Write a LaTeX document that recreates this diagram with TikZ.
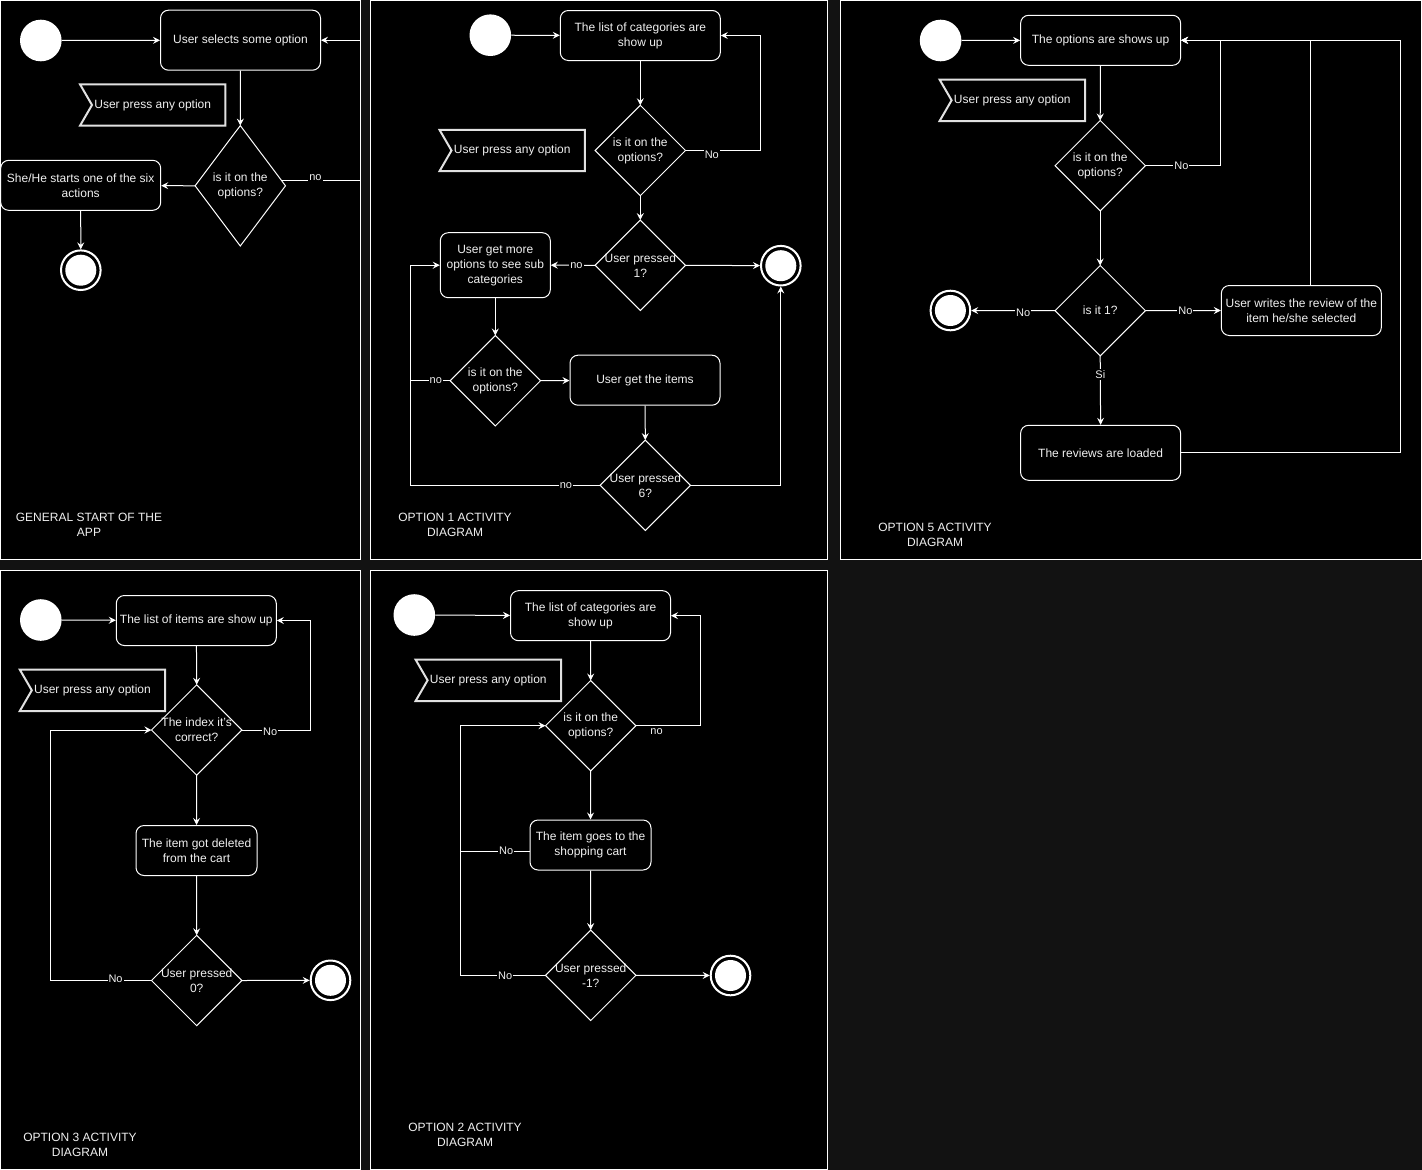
\documentclass[tikz,border=0pt]{standalone}
\usepackage{fontspec}
\setmainfont{Liberation Sans}
\usetikzlibrary{arrows.meta}
\definecolor{bgc}{RGB}{18,18,18}
\definecolor{txt}{RGB}{240,240,240}
\definecolor{flagc}{RGB}{225,225,225}
\tikzset{
  panel/.style={draw=white, fill=black, line width=1pt},
  act/.style={draw=white, fill=black, rounded corners=8pt, text=txt, align=center, inner sep=2pt, line width=1pt},
  dec/.style={rectangle, inner sep=0pt, text=txt, align=center, minimum width=90pt, minimum height=90pt},
  shapeline/.style={draw=white, line width=1pt, line join=miter},
  flagbox/.style={rectangle, inner sep=0pt, minimum width=145pt, minimum height=41pt, text=txt},
  flagline/.style={draw=flagc, line width=2pt},
  startc/.style={circle, fill=white, minimum size=41.6pt, inner sep=0pt},
  endc/.style={circle, draw=white, line width=2pt, fill=black, minimum size=39.6pt, inner sep=0pt,
    path picture={\fill[white] (path picture bounding box.center) circle (15.5pt);}},
  arr/.style={draw=white, line width=1pt, -{Stealth[length=7pt,width=7pt,inset=2.5pt]}},
  ln/.style={draw=white, line width=1pt},
  lbl/.style={fill=black, text=txt, inner sep=1pt, font=\fontsize{11}{13}\selectfont},
  ttl/.style={text=txt, align=center}
}
\newcommand\decnode[5][]{%
  \node[dec,#1] (#2) at (#3,#4) {#5};
  \draw[shapeline] (#2.north) -- (#2.east) -- (#2.south) -- (#2.west) -- cycle;}
\newcommand\flagnode[3]{%
  \node[flagbox] (#1) at (#2,#3) {User press any option};
  \draw[flagline] (#1.north west) -- (#1.north east) -- (#1.south east) -- (#1.south west) -- ([xshift=12pt]#1.west) -- cycle;}
\begin{document}
\begin{tikzpicture}[x=1pt, y=-1pt, font=\fontsize{12}{15}\selectfont]
\useasboundingbox (0,0) rectangle (1422,1170);
\fill[bgc] (0,0) rectangle (1422,1170);
% panels
\path[panel] (0.5,0.5) rectangle (360,559.5);
\path[panel] (370.5,0.5) rectangle (827.5,559.5);
\path[panel] (840.5,0.5) rectangle (1421,559.5);
\path[panel] (0.5,570.5) rectangle (360,1169);
\path[panel] (370.5,570.5) rectangle (827.5,1169);

% ===== Panel 1: general start =====
\node[startc] (s1) at (40.8,40.5) {};
\node[act, minimum width=160, minimum height=60] (a1) at (240.5,40.2) {User selects some option};
\flagnode{f1}{152.7}{105}
\decnode[minimum height=120]{d1}{240.3}{185.8}{is it on the\\options?}
\node[act, minimum width=160, minimum height=50] (a2) at (80.7,185.3) {She/He starts one of the six\\actions};
\node[endc] (e1) at (80.8,270.2) {};
\draw[arr] (s1) -- (a1);
\draw[arr] (a1) -- (d1.north);
\draw[arr] (d1.west) -- (a2);
\draw[arr] (a2) -- (e1);
\draw[arr] ([shift={(-3.75pt,5pt)}]d1.east) -- node[lbl, pos=0.43, yshift=3.5pt] {no} (360,180.8) -- (360,40.2) -- (a1.east);
\node[ttl] (t1) at (89,525) {GENERAL START OF THE\\APP};

% ===== Panel 2: option 1 =====
\node[startc] (s2) at (490.3,35.2) {};
\node[act, minimum width=160, minimum height=50] (a3) at (640.3,35.5) {The list of categories are\\show up};
\flagnode{f2}{512.2}{150.5}
\decnode{d2}{640.3}{150.5}{is it on the\\options?}
\decnode{d3}{640.3}{265.3}{User pressed\\1?}
\node[endc] (e2) at (780.8,265.7) {};
\node[act, minimum width=110, minimum height=65] (a4) at (495.3,265.2) {User get more\\options to see sub\\categories};
\decnode{d4}{495.3}{380.7}{is it on the\\options?}
\node[act, minimum width=150, minimum height=50] (a5) at (645,380.2) {User get the items};
\decnode{d5}{645.3}{485.3}{User pressed\\6?}
\draw[arr] (s2) -- (a3);
\draw[arr] (a3) -- (d2.north);
\draw[arr] (d2.east) -- node[lbl, pos=0.35, yshift=-4.5pt] {No} (760.7,150.5) -- (760.7,35.5) -- (a3.east);
\draw[arr] (d2.south) -- (d3.north);
\draw[arr] (d3.east) -- (e2);
\draw[arr] (d3.west) -- node[lbl, pos=0.42] {no} (a4.east);
\draw[arr] (a4) -- (d4.north);
\draw[arr] (d4.east) -- (a5);
\draw[ln] (d4.west) -- node[lbl, pos=0.36] {no} (410.5,380.7);
\draw[arr] (a5) -- (d5.north);
\draw[arr] (d5.west) -- node[lbl, pos=0.18] {no} (410.5,485.3) -- (410.5,265.2) -- (a4.west);
\draw[arr] (d5.east) -- (780.8,485.3) -- (e2.south);
\node[ttl] (t2) at (455,525) {OPTION 1 ACTIVITY\\DIAGRAM};

% ===== Panel 3: option 5 =====
\node[startc] (s3) at (940.6,40.5) {};
\node[act, minimum width=160, minimum height=50] (a6) at (1100.6,40.3) {The options are shows up};
\flagnode{f3}{1012.3}{100.3}
\decnode{d6}{1100.2}{165.7}{is it on the\\options?}
\decnode{d7}{1100.2}{310.7}{is it 1?}
\node[endc] (e3) at (950.4,310.5) {};
\node[act, minimum width=160, minimum height=50] (a7) at (1301.3,310.5) {User writes the review of the\\item he/she selected};
\node[act, minimum width=160, minimum height=55] (a8) at (1100.6,452.8) {The reviews are loaded};
\draw[arr] (s3) -- (a6);
\draw[arr] (a6) -- (d6.north);
\draw[arr] (d6.east) -- node[lbl, pos=0.48] {No} (1220.5,165.7) -- (1220.5,40.3) -- (a6.east);
\draw[arr] (d6.south) -- (d7.north);
\draw[arr] (d7.west) -- node[lbl, pos=0.38, yshift=-2pt] {No} (e3);
\draw[arr] (d7.east) -- node[lbl, pos=0.53] {No} (a7.west);
\draw[arr] (d7.south) -- node[lbl, pos=0.27] {Si} (a8.north);
\draw[arr] ([xshift=9.4pt]a7.north) |- (a6.east);
\draw[arr] (a8.east) -| (1400.5,40.3) -- (a6.east);
\node[ttl] (t3) at (935,535) {OPTION 5 ACTIVITY\\DIAGRAM};

% ===== Panel 4: option 3 =====
\node[startc] (s4) at (40.8,620) {};
\node[act, minimum width=160, minimum height=50] (a9) at (196.3,620.5) {The list of items are show up};
\flagnode{f4}{92.5}{690.3}
\decnode{d8}{196.7}{730}{The index it's\\correct?}
\node[act, minimum width=121, minimum height=50] (a10) at (196.5,850.5) {The item got deleted\\from the cart};
\decnode{d9}{196.7}{980.5}{User pressed\\0?}
\node[endc] (e4) at (330.5,980.3) {};
\draw[arr] (s4) -- (a9);
\draw[arr] (a9) -- (d8.north);
\draw[arr] (d8.east) -- node[lbl, pos=0.41, yshift=-2pt] {No} (310.7,730) -- (310.7,620.5) -- (a9.east);
\draw[arr] (d8.south) -- (a10.north);
\draw[arr] (a10.south) -- (d9.north);
\draw[arr] (d9.east) -- (e4);
\draw[arr] (d9.west) -- node[lbl, pos=0.355, yshift=2pt] {No} (50.3,980.5) -- (50.3,730) -- (d8.west);
\node[ttl] (t4) at (80,1145) {OPTION 3 ACTIVITY\\DIAGRAM};

% ===== Panel 5: option 2 =====
\node[startc] (s5) at (414.3,615) {};
\node[act, minimum width=160, minimum height=50] (a11) at (590.5,615.7) {The list of categories are\\show up};
\flagnode{f5}{488.3}{680.3}
\decnode{d10}{590.7}{725.7}{is it on the\\options?}
\node[act, minimum width=121, minimum height=50] (a12) at (590.5,845) {The item goes to the\\shopping cart};
\decnode{d11}{590.7}{975.3}{User pressed\\-1?}
\node[endc] (e5) at (730.5,975.5) {};
\draw[arr] (s5) -- (a11);
\draw[arr] (a11) -- (d10.north);
\draw[arr] (d10.east) -- node[lbl, pos=0.32, yshift=-6pt] {no} (700.3,725.7) -- (700.3,615.7) -- (a11.east);
\draw[arr] (d10.south) -- (a12.north);
\draw[ln] ([yshift=-6pt]a12.west) -- node[lbl, pos=0.34] {No} (460.7,851);
\draw[arr] (a12.south) -- (d11.north);
\draw[arr] (d11.east) -- (e5);
\draw[arr] (d11.west) -- node[lbl, pos=0.475] {No} (460.7,975.3) -- (460.7,725.7) -- (d10.west);
\node[ttl] (t5) at (465,1135) {OPTION 2 ACTIVITY\\DIAGRAM};
\end{tikzpicture}
\end{document}
